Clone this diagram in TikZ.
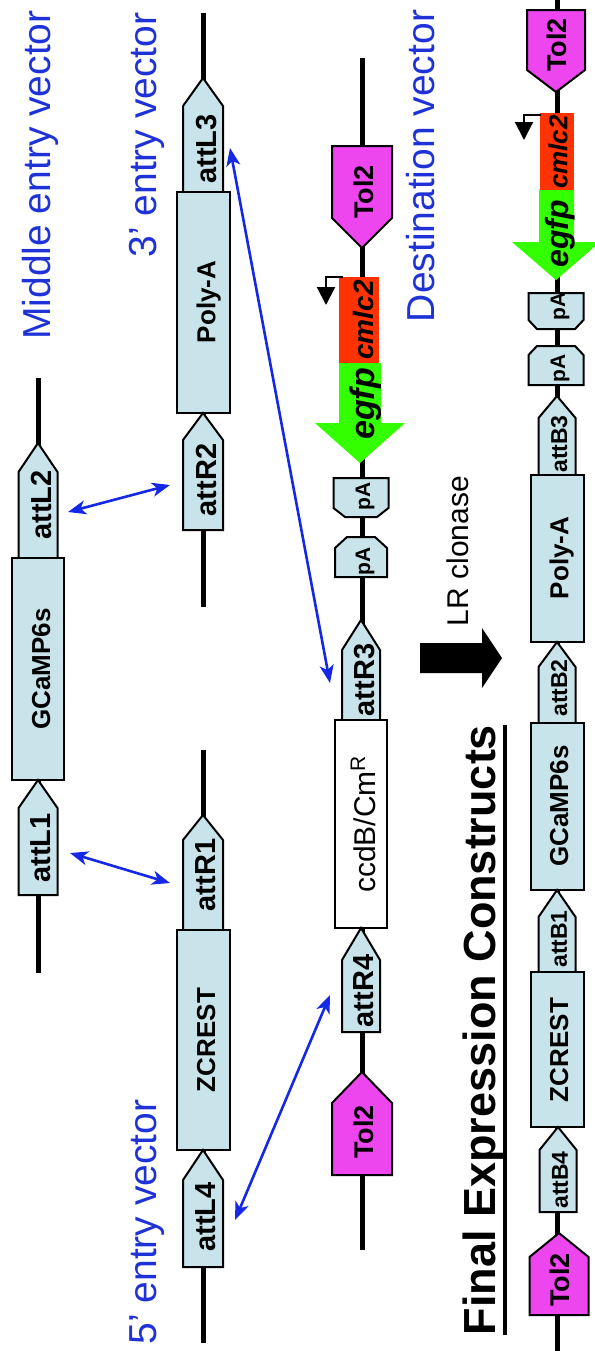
\documentclass[tikz,border=0pt]{standalone}
\usepackage{fontspec}
\setmainfont{Liberation Sans}
\usetikzlibrary{arrows.meta}
\definecolor{featfill}{RGB}{200,228,234}
\definecolor{tolfill}{RGB}{238,70,238}
\definecolor{cmred}{RGB}{255,51,0}
\definecolor{gfpgreen}{RGB}{51,255,0}
\definecolor{lblblue}{RGB}{30,50,215}
\definecolor{arrblue}{RGB}{20,40,230}
% pentagon feature: style, cx, half width, tip y, shoulder y, base y
\newcommand{\pentfeat}[6]{\draw[#1] (#2,#4) -- ({#2+#3},#5) -- ({#2+#3},#6) -- ({#2-#3},#6) -- ({#2-#3},#5) -- cycle;}
% pA feature: style, cx, wide hw, narrow hw, wide end y, shoulder y, narrow end y
\newcommand{\pafeat}[7]{\draw[#1] ({#2-#3},#5) -- ({#2+#3},#5) -- ({#2+#3},#6) -- ({#2+#4},#7) -- ({#2-#4},#7) -- ({#2-#3},#6) -- cycle;}
\tikzset{
  dna/.style={line width=2.5pt, black},
  feat/.style={draw=black, line width=1pt, fill=featfill, line join=miter},
  tol/.style={feat, fill=tolfill},
  ccd/.style={feat, fill=white},
  lblbase/.style={rotate=90, inner sep=0pt, text depth=0pt},
  attlbl/.style={lblbase, font=\bfseries\fontsize{14.5}{17}\selectfont},
  attblbl/.style={lblbase, font=\bfseries\fontsize{11.5}{14}\selectfont},
  genelbl/.style={lblbase, font=\bfseries\fontsize{13}{15}\selectfont},
  tollbl/.style={lblbase, font=\bfseries\fontsize{13.5}{16}\selectfont},
  palbl/.style={lblbase, font=\bfseries\fontsize{10.5}{12}\selectfont},
  cmlbl/.style={lblbase, font=\bfseries\itshape\fontsize{14}{16}\selectfont},
  gfplbl/.style={lblbase, font=\bfseries\itshape\fontsize{17}{19}\selectfont},
  veclbl/.style={lblbase, text=lblblue, font=\fontsize{19.5}{22}\selectfont},
  ccdlbl/.style={lblbase, font=\fontsize{15}{17}\selectfont},
  prom/.style={line width=1pt, -{Triangle[length=9pt,width=9pt]}},
  barrow/.style={arrblue, line width=1.3pt, {Stealth[length=9pt,width=7pt,inset=2.5pt]}-{Stealth[length=9pt,width=7pt,inset=2.5pt]}},
}
\begin{document}
\begin{tikzpicture}[x=0.5pt, y=-0.5pt]
\useasboundingbox (0,0) rectangle (595,1351);
\fill[white] (0,0) rectangle (595,1351);

% ---------- Middle entry vector ----------
\draw[dna] (38,378) -- (38,973);
\pentfeat{feat}{38}{19.5}{443}{472}{558}
\draw[feat] (12,558) rectangle (64,780);
\pentfeat{feat}{38}{19.5}{780}{808}{895}
\node[attlbl] (attL2) at (41,505) {attL2};
\node[genelbl] (gcampM) at (41,669) {GCaMP6s};
\node[attlbl] (attL1) at (41,848) {attL1};
\node[veclbl] (midlbl) at (36,175) {Middle entry vector};

% ---------- 3' entry vector ----------
\draw[dna] (203,13) -- (203,607);
\pentfeat{feat}{203}{20}{78}{106}{192}
\draw[feat] (177,192) rectangle (230,413);
\pentfeat{feat}{203}{20}{413}{440}{530}
\node[attlbl] (attL3) at (206,149) {attL3};
\node[genelbl] (polyA3) at (206,302) {Poly-A};
\node[attlbl] (attR2) at (206,480) {attR2};
\node[veclbl] (threelbl) at (143,135) {3’ entry vector};

% ---------- 5' entry vector ----------
\draw[dna] (203,750) -- (203,1343);
\pentfeat{feat}{203}{20}{815}{840}{930}
\draw[feat] (177,930) rectangle (230,1150);
\pentfeat{feat}{203}{20}{1150}{1180}{1267}
\node[attlbl] (attR1) at (206,875) {attR1};
\node[genelbl] (zcrest5) at (206,1040) {ZCREST};
\node[attlbl] (attL4) at (206,1217) {attL4};
\node[veclbl] (fivelbl) at (143,1222) {5’ entry vector};

% ---------- Destination vector ----------
\draw[dna] (362,58) -- (362,1250);
\pentfeat{tol}{362}{30}{248}{218}{146}
\fill[cmred] (339,277) rectangle (379,363);
\fill[gfpgreen] (339,363) -- (381,363) -- (381,423) -- (405,423) -- (360,463) -- (315,423) -- (339,423) -- cycle;
\draw[prom] (343,277) -- (326,277) -- (326,305);
\pafeat{feat}{361}{27.5}{16}{478}{508}{517}
\pafeat{feat}{361}{26}{14}{577}{548}{537}
\pentfeat{feat}{361}{19}{620}{650}{720}
\draw[ccd] (335,720) rectangle (387,928);
\pentfeat{feat}{361}{19}{928}{960}{1032}
\pentfeat{tol}{362}{30}{1072}{1103}{1175}
\node[tollbl] (tolD1) at (364,192) {Tol2};
\node[cmlbl] (cmD) at (363,320) {cmlc2};
\node[gfplbl] (gfpD) at (362,404) {egfp};
\node[palbl] (paD1) at (363,496) {pA};
\node[palbl] (paD2) at (363,561) {pA};
\node[attlbl] (attR3) at (364,680) {attR3};
\node[ccdlbl] (ccdb) at (363,824) {ccdB/Cm\textsuperscript{R}};
\node[attlbl] (attR4) at (364,991) {attR4};
\node[tollbl] (tolD2) at (364,1132) {Tol2};
\node[veclbl] (destlbl) at (420,166) {Destination vector};

% ---------- recombination arrows ----------
\coordinate (b1a) at (70,853);   \coordinate (b1b) at (170,883);
\coordinate (b2a) at (68,512);   \coordinate (b2b) at (170,485);
\coordinate (b3a) at (230,148);  \coordinate (b3b) at (330,683);
\coordinate (b4a) at (235,1220); \coordinate (b4b) at (330,995);
\draw[barrow] (b1a) -- (b1b);
\draw[barrow] (b2a) -- (b2b);
\draw[barrow] (b3a) -- (b3b);
\draw[barrow] (b4a) -- (b4b);

% ---------- LR clonase ----------
\fill[black] (420,643) -- (482,643) -- (482,628) -- (502,658) -- (482,688) -- (482,673) -- (420,673) -- cycle;
\node[lblbase, font=\fontsize{15}{17}\selectfont] (lr) at (457.5,551) {LR clonase};

% ---------- Final expression construct ----------
\node[lblbase, font=\bfseries\fontsize{22.5}{26}\selectfont] (fec) at (479,1030) {Final Expression Constructs};
\draw[line width=2pt] ([xshift=4.5pt]fec.south west) -- ([xshift=4.5pt]fec.south east);

\draw[dna] (557,0) -- (557,1351);
\pentfeat{tol}{556}{29}{92}{70}{10}
\fill[cmred] (540,113) rectangle (574,190);
\fill[gfpgreen] (539,190) -- (574,190) -- (574,242) -- (600,242) -- (556,280) -- (512,242) -- (539,242) -- cycle;
\draw[prom] (541,115) -- (524,115) -- (524,140);
\pafeat{feat}{556}{27.5}{19}{293}{320}{329}
\pafeat{feat}{556}{27.5}{19}{385}{355}{346}
\pentfeat{feat}{557}{18.5}{396}{418}{475}
\draw[feat] (531,475) rectangle (584,642);
\pentfeat{feat}{557}{18.5}{642}{667}{723}
\draw[feat] (531,723) rectangle (584,890);
\pentfeat{feat}{557}{18.5}{890}{917}{972}
\draw[feat] (531,972) rectangle (584,1127);
\pentfeat{feat}{558}{18.5}{1127}{1150}{1212}
\pentfeat{tol}{559}{29.5}{1233}{1257}{1315}
\node[tollbl] (tolF1) at (557,45) {Tol2};
\node[cmlbl, font=\bfseries\itshape\fontsize{13}{15}\selectfont] (cmF) at (558,152) {cmlc2};
\node[gfplbl, font=\bfseries\itshape\fontsize{16}{18}\selectfont] (gfpF) at (557,234) {egfp};
\node[palbl] (paF1) at (558,306) {pA};
\node[palbl] (paF2) at (558,368) {pA};
\node[attblbl] (attB3) at (559,444) {attB3};
\node[genelbl] (polyAF) at (559,558) {Poly-A};
\node[attblbl] (attB2) at (559,688) {attB2};
\node[genelbl] (gcampF) at (559,806) {GCaMP6s};
\node[attblbl] (attB1) at (559,939) {attB1};
\node[genelbl] (zcrestF) at (559,1050) {ZCREST};
\node[attblbl] (attB4) at (560,1180) {attB4};
\node[tollbl] (tolF2) at (560,1280) {Tol2};
\end{tikzpicture}
\end{document}
